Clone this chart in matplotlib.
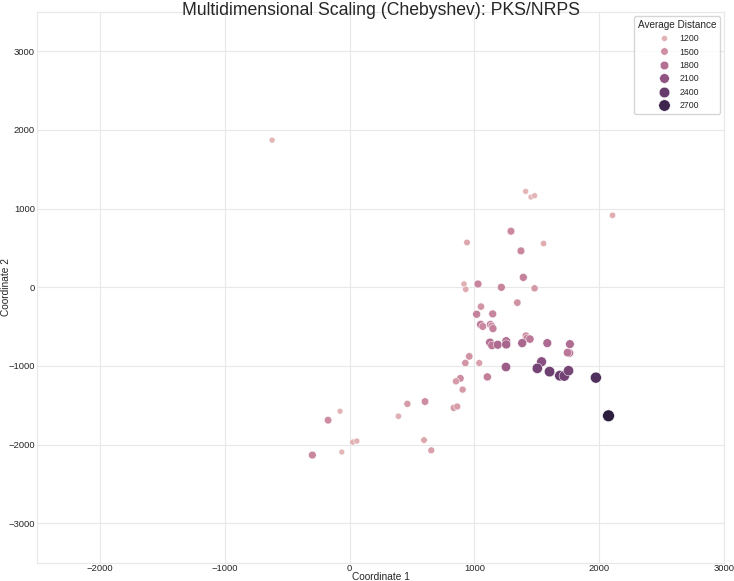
import matplotlib
matplotlib.use("Agg")
import matplotlib.pyplot as plt
import numpy as np
import pandas as pd
import seaborn as sns

# MDS coordinates
coord1 = [-620, 1410, 1452, 1481, 2105, 940, 1553, 916, 930, -76,
          26, 58, -62, 391, 596, 654, 1038, 1481,
          1028, 1052, 1017, 1146, 1292, 1372, 1391, 1215, 1343, 1050,
          1066, 1128, 1138, 1148, 958, 927, 1103, 887, 852, 905,
          834, 862, -172, 463, 604, -298, 1412, 1422, 1444,
          1124, 1140, 1186, 1254, 1254, 1382, 1583, 1764, 1759, 1745, 1252,
          1537, 1503, 1601, 1684, 1719, 1753, 1972, 2073]
coord2 = [1870, 1219, 1147, 1164, 915, 570, 557, 42, -25, -1575,
          -1967, -1954, -2094, -1638, -1942, -2072, -962, -13,
          42, -245, -342, -338, 713, 463, 126, 0, -195, -473,
          -498, -473, -490, -524, -878, -962, -1139, -1157, -1195, -1300,
          -1532, -1515, -1689, -1481, -1452, -2132, -616, -650, -658,
          -701, -739, -730, -684, -726, -709, -709, -722, -835, -830, -1013,
          -946, -1030, -1072, -1123, -1127, -1060, -1148, -1633]
avg_dist = [1180, 1180, 1170, 1190, 1250, 1300, 1250, 1230, 1260, 1180,
            1220, 1200, 1170, 1240, 1300, 1360, 1350, 1420,
            1600, 1450, 1620, 1600, 1560, 1580, 1620, 1600, 1480, 1700,
            1550, 1650, 1520, 1620, 1480, 1450, 1650, 1520, 1400, 1400,
            1400, 1380, 1520, 1400, 1520, 1580, 1520, 1650, 1700,
            1800, 1720, 1850, 1820, 1900, 1880, 1850, 1820, 1780, 1720, 2000,
            2150, 2300, 2350, 2380, 2330, 2280, 2550, 2820]

x_ticks = [-2000, -1000, 0, 1000, 2000, 3000]
y_ticks = [-3000, -2000, -1000, 0, 1000, 2000, 3000]

df = pd.DataFrame({"Coordinate 1": coord1, "Coordinate 2": coord2,
                   "Average Distance": avg_dist})

sns.set_style("whitegrid", {"grid.color": "#e8e8e8", "axes.edgecolor": "#e8e8e8"})
plt.rcParams["font.family"] = ["Liberation Sans", "DejaVu Sans"]

fig = plt.figure(figsize=(7.34, 5.81), dpi=100)
ax = fig.add_axes([0.0508, 0.0315, 0.936, 0.948])

sns.scatterplot(data=df, x="Coordinate 1", y="Coordinate 2",
                hue="Average Distance", size="Average Distance",
                hue_norm=(950, 2820), ax=ax)

ax.set_xlim(-2500, 3000)
ax.set_ylim(-3500, 3500)
ax.set_xticks(x_ticks)
ax.set_yticks(y_ticks)
ax.tick_params(labelsize=6.8, colors="#262626", length=0)
ax.tick_params(axis="x", pad=1.2)
ax.tick_params(axis="y", pad=1.6)
ax.grid(True, lw=0.8)

ax.set_xlabel("Coordinate 1", fontsize=7.3)
ax.set_ylabel("Coordinate 2", fontsize=7.3)
ax.xaxis.set_label_coords(0.5, -0.017)
ax.yaxis.set_label_coords(-0.038, 0.5)

ax.set_title("Multidimensional Scaling (Chebyshev): PKS/NRPS", fontsize=12.7,
             y=1.0, pad=-2.5)

handles, labels = ax.get_legend_handles_labels()
ax.legend(handles, labels, title="Average Distance", loc="upper right",
          fontsize=6.3, title_fontsize=7.2, frameon=True, borderaxespad=0.5)

fig.savefig("out.png", dpi=100)
